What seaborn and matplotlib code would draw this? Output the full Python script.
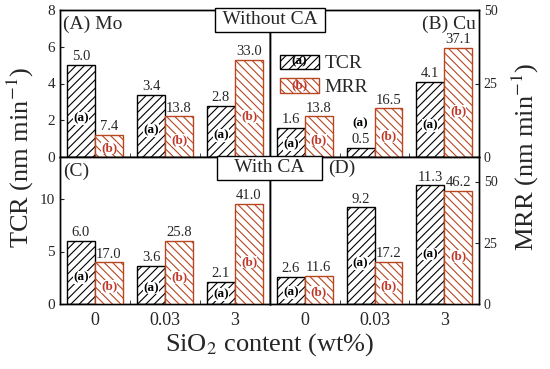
import numpy as np
import pandas as pd
import matplotlib
matplotlib.use('Agg')
import matplotlib.pyplot as plt
import seaborn as sns
from matplotlib.patches import Rectangle
from matplotlib.legend_handler import HandlerPatch
from matplotlib.ticker import FixedLocator

# ---- data ----
sio2 = ['0', '0.03', '3']
tcr_mo_wo = [5.0, 3.4, 2.8]
mrr_mo_wo = [7.4, 13.8, 33.0]
tcr_cu_wo = [1.6, 0.5, 4.1]
mrr_cu_wo = [13.8, 16.5, 37.1]
tcr_mo_w = [6.0, 3.6, 2.1]
mrr_mo_w = [17.0, 25.8, 41.0]
tcr_cu_w = [2.6, 9.2, 11.3]
mrr_cu_w = [11.6, 17.2, 46.2]

sns.set_style('ticks')
plt.rcParams['font.family'] = ['Liberation Serif', 'DejaVu Serif']
plt.rcParams['mathtext.fontset'] = 'stix'
plt.rcParams['hatch.linewidth'] = 0.8

RED = '#b8461f'
RED_TXT = '#c0392b'
ORDER = ['TCR', 'MRR']
H_T = '////'
H_M = '\\\\\\\\'

fig = plt.figure(figsize=(5.5, 3.69), dpi=100)

W, H = 550, 369
def box(x0, y0, x1, y1):
    return [x0 / W, 1 - y1 / H, (x1 - x0) / W, (y1 - y0) / H]

panels = {
    'A': dict(rect=box(60, 10, 270, 157), tcr=tcr_mo_wo, mrr=mrr_mo_wo, yl=8, yr=50,
              lt=[0, 2, 4, 6, 8], name='(A) Mo', left=True, bottom=False),
    'B': dict(rect=box(270, 10, 479, 157), tcr=tcr_cu_wo, mrr=mrr_cu_wo, yl=8, yr=50,
              lt=[0, 2, 4, 6, 8], name='(B) Cu', left=False, bottom=False),
    'C': dict(rect=box(60, 157, 270, 304), tcr=tcr_mo_w, mrr=mrr_mo_w, yl=14, yr=60,
              lt=[0, 5, 10], name='(C)', left=True, bottom=True),
    'D': dict(rect=box(270, 157, 479, 304), tcr=tcr_cu_w, mrr=mrr_cu_w, yl=14, yr=60,
              lt=[0, 5, 10], name='(D)', left=False, bottom=True),
}


def tag(ax, x, h, ylim, txt, color):
    # bar tag "(a)"/"(b)" inside the bar, or above it when the bar is short
    if h / ylim < 0.1:
        y = h + ylim * 0.17
    else:
        y = h * 0.42
    ax.text(x, y, txt, ha='center', va='center', fontsize=9.5, fontweight='bold',
            color=color, bbox=dict(facecolor='white', edgecolor='none', pad=0.2))


def draw(ax, df, keep, edge, hatch):
    # dodge both series through seaborn, then keep only the one for this axis
    sns.barplot(data=df, x='x', y='v', hue='s', hue_order=ORDER, order=sio2,
                palette={'TCR': 'white', 'MRR': 'white'}, edgecolor=edge,
                linewidth=1.0, gap=0, ax=ax, legend=False)
    for lvl, cont in zip(ORDER, list(ax.containers)):
        if lvl != keep:
            cont.remove()
    bars = [b for b in ax.patches]
    for b in bars:
        b.set_hatch(hatch)
    return bars


for key, p in panels.items():
    ax = fig.add_axes(p['rect'])
    ax2 = ax.twinx()
    df = pd.DataFrame({'x': sio2 * 2, 'v': p['tcr'] + p['mrr'], 's': ['TCR'] * 3 + ['MRR'] * 3})
    bars_t = draw(ax, df, 'TCR', 'black', H_T)
    bars_m = draw(ax2, df, 'MRR', RED, H_M)

    ax.set_xlim(-0.5, 2.5)
    ax.set_ylim(0, p['yl'])
    ax2.set_ylim(0, p['yr'])
    ax.set_xlabel('')
    ax.set_ylabel('')
    ax2.set_ylabel('')

    # value labels and tags
    for b, v in zip(bars_t, p['tcr']):
        cx = b.get_x() + b.get_width() / 2
        ax.text(cx, v + p['yl'] * 0.012, f'{v:.1f}', ha='center', va='bottom', fontsize=10.5)
        tag(ax, cx, v, p['yl'], '(a)', 'black')
    for b, v in zip(bars_m, p['mrr']):
        cx = b.get_x() + b.get_width() / 2
        ax2.text(cx, v + p['yr'] * 0.012, f'{v:.1f}', ha='center', va='bottom', fontsize=10.5)
        tag(ax2, cx, v, p['yr'], '(b)', RED_TXT)

    ax.tick_params(direction='in', length=3, labelsize=11, width=0.8)
    ax2.tick_params(direction='in', length=3, labelsize=10, width=0.8)
    ax.yaxis.set_major_locator(FixedLocator(p['lt']))
    ax2.yaxis.set_major_locator(FixedLocator([0, 25, 50]))
    if not p['left']:
        ax.tick_params(axis='y', left=False, labelleft=False)
    if p['left']:
        ax2.tick_params(axis='y', right=False, labelright=False)
    ax.xaxis.set_minor_locator(FixedLocator([0.5, 1.5]))
    ax.tick_params(axis='x', which='major', length=0, labelsize=13, pad=6)
    ax.tick_params(axis='x', which='minor', direction='in', length=3)
    if not p['bottom']:
        ax.tick_params(axis='x', labelbottom=False)
    for a in (ax, ax2):
        for s in a.spines.values():
            s.set_linewidth(1.0)
            s.set_color('black')

    if key == 'B':
        ax.text(0.985, 0.96, p['name'], transform=ax.transAxes, ha='right', va='top', fontsize=14)
    elif key == 'D':
        ax.text(0.28, 0.985, p['name'], transform=ax.transAxes, ha='left', va='top', fontsize=14)
    else:
        ax.text(0.015, 0.96, p['name'], transform=ax.transAxes, ha='left', va='top', fontsize=14)

    if key == 'B':
        class HandlerTag(HandlerPatch):
            def __init__(self, txt, col, **kw):
                super().__init__(**kw)
                self.txt, self.col = txt, col

            def create_artists(self, legend, orig, xd, yd, width, height, fontsize, trans):
                r = Rectangle((-xd, -yd), width, height, facecolor='white',
                              edgecolor=orig.get_edgecolor(), hatch=orig.get_hatch(),
                              lw=1.0, transform=trans)
                t = plt.Text(-xd + width / 2, -yd + height / 2, self.txt, ha='center',
                             va='center', fontsize=9.5, fontweight='bold', color=self.col,
                             transform=trans)
                return [r, t]

        h1 = Rectangle((0, 0), 1, 1, facecolor='white', edgecolor='black', hatch=H_T)
        h2 = Rectangle((0, 0), 1, 1, facecolor='white', edgecolor=RED, hatch=H_M)
        ax2.legend([h1, h2], ['TCR', 'MRR'], loc='upper left', bbox_to_anchor=(0.01, 0.75),
                   frameon=False, fontsize=14, handlelength=2.0, handleheight=0.75,
                   handletextpad=0.3, labelspacing=0.3, borderaxespad=0,
                   handler_map={h1: HandlerTag('(a)', 'black'), h2: HandlerTag('(b)', RED_TXT)})

# condition boxes
fig.text(270 / W, 1 - 11 / H, ' Without CA ', ha='center', va='top', fontsize=14,
         bbox=dict(boxstyle='square,pad=0.18', facecolor='white', edgecolor='black', lw=1.0))
fig.text(269 / W, 1 - 159 / H, '   With CA   ', ha='center', va='top', fontsize=14,
         bbox=dict(boxstyle='square,pad=0.18', facecolor='white', edgecolor='black', lw=1.0))

fig.text(20 / W, 1 - 157 / H, 'TCR (nm min$^{-1}$)', rotation=90, ha='center', va='center', fontsize=19)
fig.text(525 / W, 1 - 157 / H, 'MRR (nm min$^{-1}$)', rotation=90, ha='center', va='center', fontsize=19)
fig.text(270 / W, 1 - 345 / H, 'SiO$_2$ content (wt%)', ha='center', va='center', fontsize=19)

fig.savefig('out.png', dpi=100)
